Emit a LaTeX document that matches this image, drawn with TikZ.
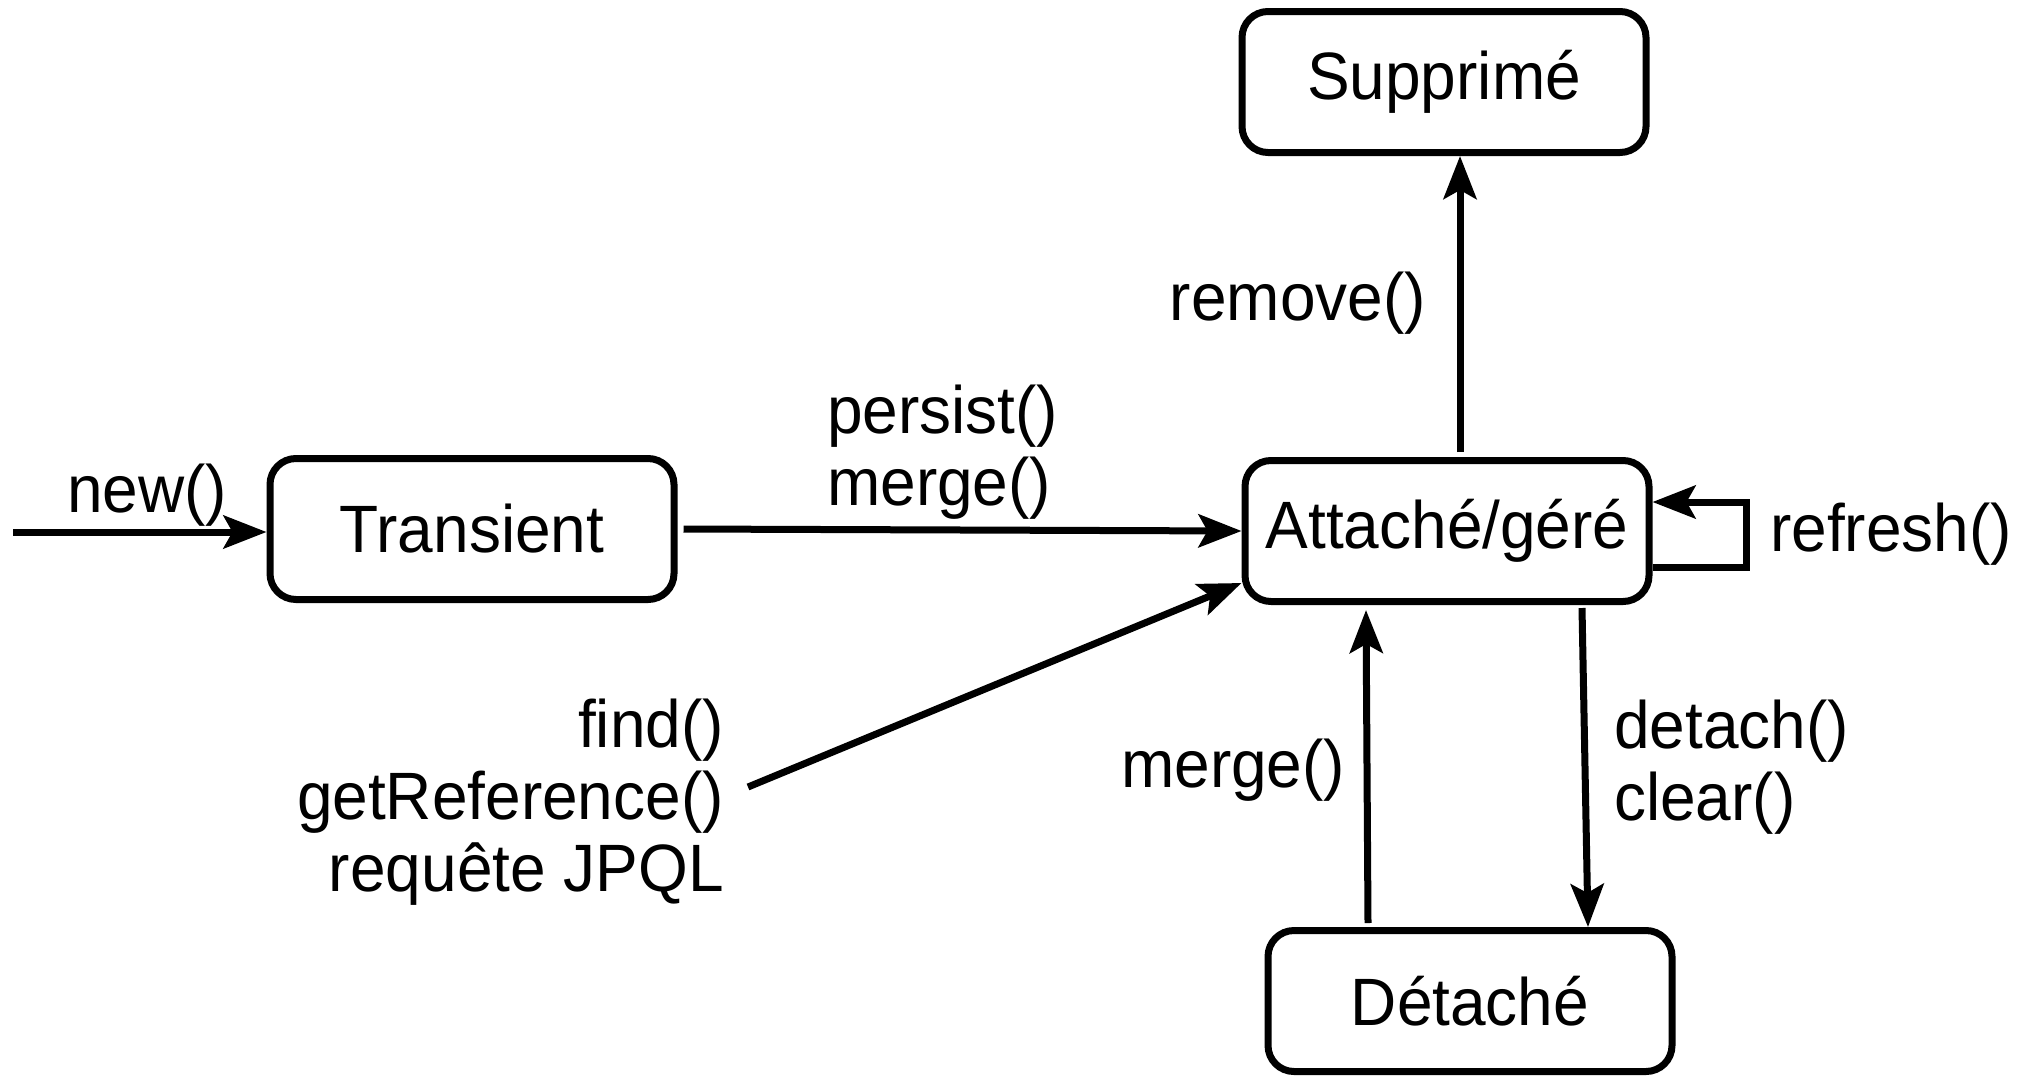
\documentclass[tikz,border=0pt]{standalone}
\usepackage{fontspec}
\setmainfont[FakeStretch=0.955]{Liberation Sans}
\usetikzlibrary{arrows.meta}

\begin{document}
\begin{tikzpicture}[x=1pt,y=-1pt,
  state/.style={draw, line width=7pt, rounded corners=26pt,
    minimum width=404pt, minimum height=141pt, inner sep=0pt,
    font=\fontsize{67}{72}\selectfont},
  lbl/.style={inner sep=0pt, font=\fontsize{67}{72}\selectfont},
  arr/.style={line width=7pt,
    -{Stealth[length=43pt,width=33pt,inset=9pt]}}]
\useasboundingbox (0,0) rectangle (2033,1076);

% states
\node[state] (Transient) at (472,529)  {Transient};
\node[state] (Attache)   at (1447,531) {Attaché/géré};
\node[state] (Supprime)  at (1444,82)  {Supprimé};
\node[state] (Detache)   at (1470,1001) {Détaché};

% initial transition
\coordinate (init) at (13,532);
\draw[arr] (init) -- (init -| Transient.west);
\node[lbl, anchor=base west] (newlbl) at (67,512) {new()};

% Transient -> Attaché
\draw[arr] ([xshift=6pt]Transient.east) -- (Attache.west);
\node[lbl, anchor=north west, align=left] (persistlbl) at (827,385)
  {persist()\\merge()};

% queries -> Attaché
\coordinate (query) at (748,787);
\draw[arr] (query) -- ([yshift=-52pt]Attache.west);
\node[lbl, anchor=north east, align=right] (findlbl) at (724,699)
  {find()\\getReference()\\requête JPQL};

% Attaché -> Supprimé
\draw[arr] ([xshift=13pt,yshift=5pt]Attache.north) -- ([xshift=16pt]Supprime.south);
\node[lbl, anchor=base east] (removelbl) at (1426,320) {remove()};

% refresh loop
\draw[arr] ([yshift=-36pt]Attache.east) -- ++(94,0) |- ([yshift=29pt]Attache.east);
\node[lbl, anchor=base west] (refreshlbl) at (1770,551) {refresh()};

% Détaché -> Attaché
\draw[arr] ([xshift=-102pt,yshift=4pt]Detache.north) -- ([xshift=-81pt,yshift=-5pt]Attache.south);
\node[lbl, anchor=base west] (mergelbl) at (1121,787) {merge()};

% Attaché -> Détaché
\draw[arr] ([xshift=135pt,yshift=-3pt]Attache.south) -- ([xshift=118pt]Detache.north);
\node[lbl, anchor=north west, align=left] (detachlbl) at (1614,700)
  {detach()\\clear()};
\end{tikzpicture}
\end{document}
